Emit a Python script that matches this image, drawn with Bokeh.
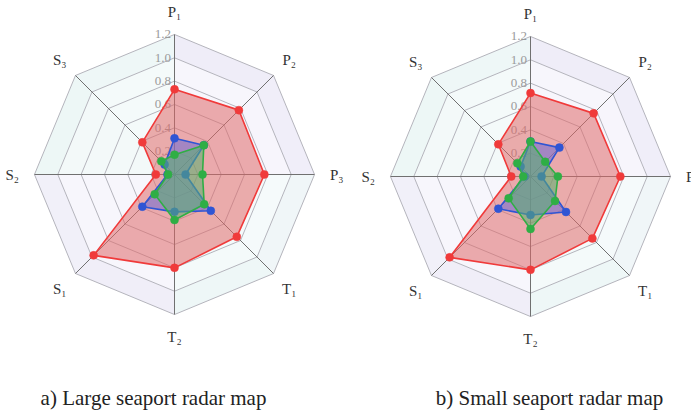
import numpy as np
from bokeh.plotting import figure
from bokeh.layouts import row
from bokeh.models import Range1d
from bokeh.core.properties import value
from bokeh.embed import file_html
from bokeh.resources import INLINE

# ---------------- data ----------------
axis_labels = ["P\u2081", "P\u2082", "P\u2083", "T\u2081", "T\u2082", "S\u2081", "S\u2082", "S\u2083"]
tick_values = [0.2, 0.4, 0.6, 0.8, 1.0, 1.2]
tick_labels = ["0.2", "0.4", "0.6", "0.8", "1.0", "1.2"]

large_red = [0.73, 0.78, 0.77, 0.755, 0.80, 0.98, 0.16, 0.39]
large_blue = [0.31, 0.355, 0.095, 0.44, 0.32, 0.39, 0.06, 0.12]
large_green = [0.17, 0.355, 0.24, 0.36, 0.39, 0.24, 0.055, 0.16]

small_red = [0.715, 0.765, 0.77, 0.75, 0.80, 0.98, 0.165, 0.39]
small_blue = [0.30, 0.35, 0.095, 0.43, 0.33, 0.39, 0.05, 0.12]
small_green = [0.30, 0.178, 0.235, 0.297, 0.45, 0.265, 0.063, 0.16]

captions = ["a) Large seaport radar map", "b) Small seaport radar map"]

# ---------------- styling ----------------
SCALE = 116.7  # px per unit
H = 415
N = len(axis_labels)
angles = np.deg2rad(90 - 45 * np.arange(N))
RMAX = 1.2
LABEL_R = 1.39

sector_outer = ["#efedf8", "#f0eef9", "#f0f6f8", "#eef7f7", "#f0eef8", "#f1f0f9", "#edf7f6", "#eef7f7"]
sector_inner = ["#f7f6fc", "#f7f5fc", "#f5fafb", "#f4fafa", "#f7f6fc", "#f7f6fc", "#f3f9f9", "#f4fafa"]

series_style = [
    ("#f03a3a", "#e06a6a", 0.55),
    ("#2f55d4", "#6a6ad6", 0.55),
    ("#2fae45", "#55b070", 0.55),
]


def polar(vals):
    v = np.asarray(vals, dtype=float)
    return list(v * np.cos(angles)), list(v * np.sin(angles))


def make_radar(width, cx, cy, series, caption, cap_x):
    p = figure(width=width, height=H, output_backend="svg", toolbar_location=None,
               x_axis_location=None, y_axis_location=None, min_border=0,
               outline_line_color=None, background_fill_color="white",
               border_fill_color="white")
    p.x_range = Range1d(-cx / SCALE, (width - cx) / SCALE)
    p.y_range = Range1d(-(H - cy) / SCALE, cy / SCALE)
    p.grid.visible = False

    # sector backgrounds
    for i in range(N):
        a0, a1 = angles[i], angles[(i + 1) % N]
        for (r0, r1, col) in [(1.0, RMAX, sector_outer[i]), (0.0, 1.0, sector_inner[i])]:
            xs = [r0 * np.cos(a0), r1 * np.cos(a0), r1 * np.cos(a1), r0 * np.cos(a1)]
            ys = [r0 * np.sin(a0), r1 * np.sin(a0), r1 * np.sin(a1), r0 * np.sin(a1)]
            p.patch(xs, ys, fill_color=col, line_color=None)

    # rings
    for tv in tick_values:
        xs, ys = polar([tv] * N)
        p.patch(xs + [xs[0]], ys + [ys[0]], fill_color=None, line_color="#b4b4bc", line_width=1)

    # spokes
    for i in range(N):
        p.line([0, RMAX * np.cos(angles[i])], [0, RMAX * np.sin(angles[i])],
               line_color="#707070", line_width=1)

    # tick labels
    p.text(x=[-0.03] * len(tick_values), y=tick_values, text=tick_labels,
           text_align="right", text_baseline="middle", text_font_size="13px",
           text_color="#9a9a9a", text_font=value("Liberation Serif"))

    # series
    for vals, (lc, fc, fa) in zip(series, series_style):
        xs, ys = polar(vals)
        p.patch(xs, ys, fill_color=fc, fill_alpha=fa, line_color=lc, line_width=1.6)
        p.scatter(xs, ys, size=8, fill_color=lc, line_color=lc, line_width=0.5)

    # axis labels
    lx, ly = polar([LABEL_R] * N)
    p.text(x=lx, y=ly, text=axis_labels, text_align="center", text_baseline="middle",
           text_font_size="15px", text_color="#333333", text_font=value("Liberation Serif"))

    # caption
    p.text(x=[cap_x], y=[-(397 - cy) / SCALE], text=[caption], text_align="center",
           text_baseline="middle", text_font_size="21px", text_color="#222222",
           text_font=value("Liberation Serif"))
    return p


p1 = make_radar(345, 174, 174, [large_red, large_blue, large_green], captions[0],
                (153 - 174) / SCALE)
p2 = make_radar(346, 185, 176, [small_red, small_blue, small_green], captions[1],
                (549 - 345 - 185) / SCALE)

layout = row(p1, p2, spacing=0)
open("out.html", "w").write(file_html(layout, INLINE))
